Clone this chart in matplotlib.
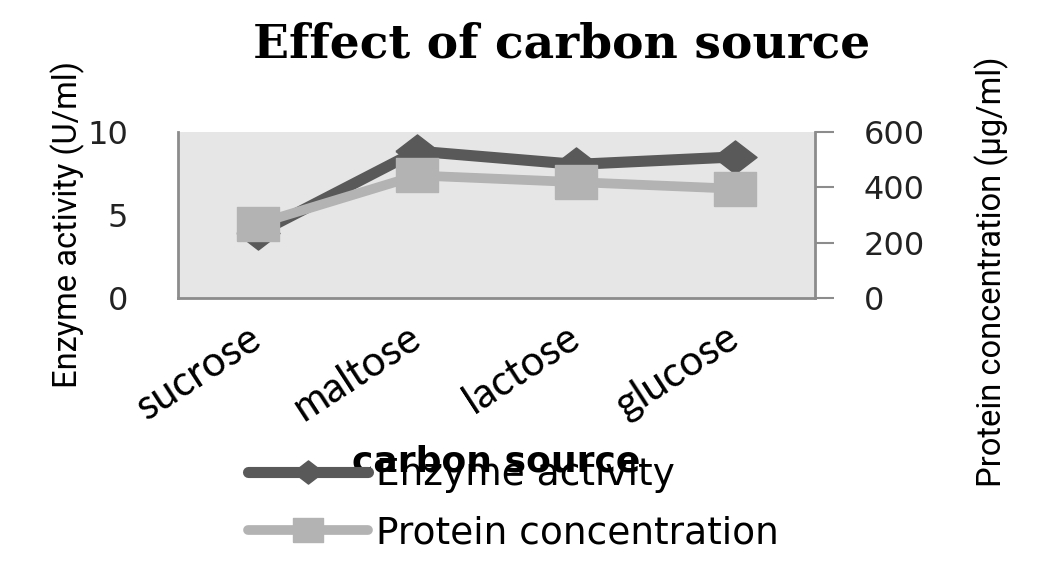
import numpy as np
import matplotlib
matplotlib.use('Agg')
import matplotlib.pyplot as plt

#%% data
sources = ['sucrose', 'maltose', 'lactose', 'glucose']
enzyme = [3.9, 8.85, 8.05, 8.5]          # U/ml
protein = [268, 443, 419, 395]           # ug/ml

dark = '#595959'
light = '#b3b3b3'
spine_c = '#8c8c8c'

# excel markers look stretched sideways
diamond = [(-1.3, 0), (0, 1), (1.3, 0), (0, -1), (-1.3, 0)]
square = [(-1.2, -1), (1.2, -1), (1.2, 1), (-1.2, 1), (-1.2, -1)]

#%%
fig = plt.figure(figsize=(10.44, 5.76), dpi=100)
ax = fig.add_axes([0.1705, 0.4826, 0.6101, 0.2882])
ax.set_facecolor('#e6e6e6')

x = np.arange(len(sources))
l1, = ax.plot(x, enzyme, color=dark, lw=8, marker=diamond, ms=31,
              solid_joinstyle='round', solid_capstyle='round',
              label='Enzyme activity')
ax.set_xlim(-0.5, 3.5)
ax.set_ylim(0, 10)
ax.set_yticks([0, 5, 10])

ax2 = ax.twinx()
l2, = ax2.plot(x, protein, color=light, lw=7, marker=square, ms=30,
               solid_joinstyle='round', solid_capstyle='round',
               label='Protein concentration')
ax2.set_ylim(0, 600)
ax2.set_yticks([0, 200, 400, 600])

for s in ['top', 'right']:
    ax.spines[s].set_visible(False)
for s in ['top', 'left', 'bottom']:
    ax2.spines[s].set_visible(False)
for s in ['left', 'bottom']:
    ax.spines[s].set_color(spine_c)
    ax.spines[s].set_linewidth(2)
ax2.spines['right'].set_color(spine_c)
ax2.spines['right'].set_linewidth(2)

ax.tick_params(axis='y', length=0, pad=36, labelcolor='#222222')
ax2.tick_params(axis='y', length=14, width=1.5, color=spine_c, pad=21,
                labelcolor='#222222')
for lab in ax.get_yticklabels() + ax2.get_yticklabels():
    lab.set_fontfamily('DejaVu Sans')
    lab.set_fontsize(23)

ax.set_xticks(x)
ax.set_xticklabels(sources, rotation=33, ha='right', va='center',
                   rotation_mode='anchor', fontsize=30,
                   family=['Lato', 'DejaVu Sans'])
ax.tick_params(axis='x', length=0, pad=26)

lab_font = dict(family=['Roboto', 'DejaVu Sans'], size=23.5)
ax.set_ylabel('Enzyme activity (U/ml)', **lab_font)
ax.yaxis.set_label_coords(-0.146, 0.44)
ax2.set_ylabel('Protein concentration (µg/ml)', **lab_font)
ax2.yaxis.set_label_coords(1.251, 0.16)

# x label sits over the legend in the original too
ax.set_xlabel('carbon source', family='DejaVu Sans', fontweight='bold',
              fontsize=26)
ax.xaxis.set_label_coords(0.5, -0.88)

fig.text(0.538, 0.922, 'Effect of carbon source', ha='center', va='center',
         family=['DejaVu Serif'], fontweight='bold', fontsize=34)

leg = fig.legend([l1, l2], ['Enzyme activity', 'Protein concentration'],
                 loc='upper left', bbox_to_anchor=(0.2376, 0.207),
                 frameon=False, borderpad=0, borderaxespad=0,
                 handlelength=3.2, handletextpad=0.22, labelspacing=0.6,
                 markerscale=0.7, prop=dict(family='DejaVu Sans', size=27))

fig.savefig('out.png', dpi=100)
